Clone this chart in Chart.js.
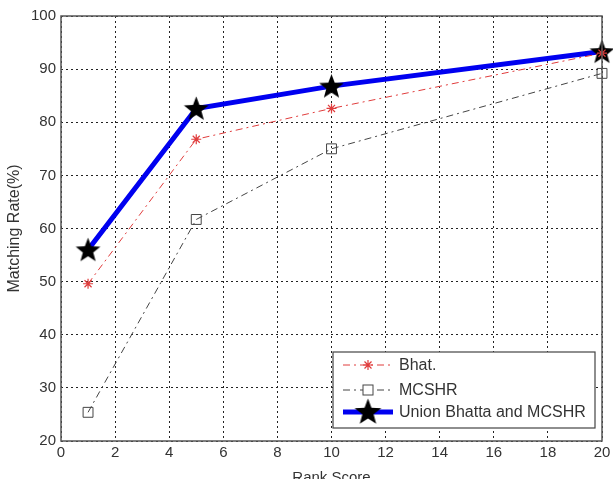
<!DOCTYPE html>
<html>
<head>
<meta charset="utf-8">
<script src="https://cdn.jsdelivr.net/npm/chart.js@4.4.1/dist/chart.umd.min.js"></script>
<style>
  html, body { margin:0; padding:0; background:#fff; }
  #wrap { width:613px; height:479px; }
</style>
</head>
<body>
<div id="wrap"><canvas id="c" width="613" height="479"></canvas></div>
<script>
const rankScores = [1, 5, 10, 20];
const bhat       = [49.6, 76.8, 82.6, 93.0];
const mcshr      = [25.4, 61.7, 75.0, 89.2];
const unionBM    = [56.0, 82.6, 86.8, 93.3];
const seriesNames = ['Bhat.', 'MCSHR', 'Union Bhatta and MCSHR'];
const xTicks = [0, 2, 4, 6, 8, 10, 12, 14, 16, 18, 20];
const yTicks = [20, 30, 40, 50, 60, 70, 80, 90, 100];

// filled five point star for the union series
function makeStar(size) {
  const cv = document.createElement('canvas');
  cv.width = size; cv.height = size;
  const g = cv.getContext('2d');
  const cx = size/2, cy = size/2 + 1, R = size/2 - 0.5, r = R*0.42;
  g.beginPath();
  for (let i=0;i<10;i++) {
    const a = -Math.PI/2 + i*Math.PI/5;
    const rr = i%2 ? r : R;
    g.lineTo(cx + rr*Math.cos(a), cy + rr*Math.sin(a));
  }
  g.closePath();
  g.fillStyle = '#000';
  g.fill();
  return cv;
}
const bigStar = makeStar(27);
const legendStar = makeStar(29);

const pts = ys => rankScores.map((x,i)=>({x, y: ys[i]}));
const FONT = '"Liberation Sans", Arial, sans-serif';

const boxAndLegend = {
  id: 'boxAndLegend',
  afterDatasetsDraw(chart) {
    const {ctx, chartArea:a} = chart;
    ctx.save();
    ctx.strokeStyle = '#555';
    ctx.lineWidth = 1.5;
    ctx.strokeRect(a.left, a.top, a.right-a.left, a.bottom-a.top);

    // legend box (MATLAB style, inside lower right)
    const lx = 333, ly = 352, lw = 262, lh = 76;
    ctx.fillStyle = '#fff';
    ctx.fillRect(lx, ly, lw, lh);
    ctx.strokeStyle = '#444';
    ctx.lineWidth = 1.2;
    ctx.strokeRect(lx, ly, lw, lh);
    const rows = [365, 390, 412];
    seriesNames.forEach((name, i) => {
      const ds = chart.data.datasets.find(d => d.label === name);
      const y = rows[i];
      ctx.save();
      ctx.strokeStyle = ds.borderColor;
      ctx.lineWidth = ds.borderWidth;
      ctx.setLineDash(ds.borderDash || []);
      ctx.beginPath(); ctx.moveTo(343, y); ctx.lineTo(393, y); ctx.stroke();
      ctx.restore();
      const mx = 368;
      if (ds.pointStyle === 'rect') {
        ctx.fillStyle = '#fff';
        ctx.fillRect(mx-5, y-5, 10, 10);
        ctx.strokeStyle = ds.pointBorderColor; ctx.lineWidth = 1;
        ctx.strokeRect(mx-5, y-5, 10, 10);
      } else if (ds.pointStyle === 'star') {
        ctx.strokeStyle = ds.pointBorderColor; ctx.lineWidth = 1.2;
        ctx.beginPath();
        ctx.moveTo(mx-5, y); ctx.lineTo(mx+5, y);
        ctx.moveTo(mx, y-5); ctx.lineTo(mx, y+5);
        ctx.moveTo(mx-3.5, y-3.5); ctx.lineTo(mx+3.5, y+3.5);
        ctx.moveTo(mx-3.5, y+3.5); ctx.lineTo(mx+3.5, y-3.5);
        ctx.stroke();
      } else {
        ctx.drawImage(legendStar, mx-14.5, y-15);
      }
      ctx.fillStyle = '#333';
      ctx.font = '16px ' + FONT;
      ctx.textBaseline = 'middle';
      ctx.fillText(ds.label, 399, y + 1);
    });
    ctx.restore();
  }
};

new Chart(document.getElementById('c'), {
  type: 'line',
  data: {
    datasets: [
      {
        label: seriesNames[1],
        data: pts(mcshr),
        borderColor: '#444',
        borderWidth: 1,
        borderDash: [7, 4, 2, 4],
        pointStyle: 'rect',
        pointRadius: 7,
        pointBackgroundColor: 'rgba(255,255,255,0)',
        pointBorderColor: '#444',
        pointBorderWidth: 1,
        tension: 0,
        clip: 14
      },
      {
        label: seriesNames[0],
        data: pts(bhat),
        borderColor: '#e03c3c',
        borderWidth: 1,
        borderDash: [7, 4, 2, 4],
        pointStyle: 'star',
        pointRadius: 5,
        pointBorderColor: '#e03c3c',
        pointBorderWidth: 1.2,
        tension: 0,
        clip: 14
      },
      {
        label: seriesNames[2],
        data: pts(unionBM),
        borderColor: '#0000f0',
        borderWidth: 5,
        pointStyle: bigStar,
        pointRadius: 13,
        tension: 0,
        clip: 14
      }
    ]
  },
  options: {
    responsive: false,
    animation: false,
    layout: { autoPadding: false, padding: { top: 16, right: 11, left: 5, bottom: 0 } },
    plugins: { legend: { display: false }, tooltip: { enabled: false } },
    scales: {
      x: {
        type: 'linear',
        min: 0, max: 20,
        afterBuildTicks: s => { s.ticks = xTicks.map(v => ({value: v})); },
        afterFit: s => { s.height = 38; s.paddingLeft = 0; s.paddingRight = 0; },
        grid: { color: '#222', lineWidth: 1, drawTicks: false },
        border: { display: false, dash: [2, 3] },
        ticks: { color: '#333', font: { size: 15, family: FONT }, padding: 3, maxRotation: 0 },
        title: { display: true, text: 'Rank Score', color: '#333', font: { size: 15, family: FONT }, padding: { top: 4, bottom: -8 } }
      },
      y: {
        min: 20, max: 100,
        afterBuildTicks: s => { s.ticks = yTicks.map(v => ({value: v})); },
        afterFit: s => { s.width = 56; },
        grid: { color: '#222', lineWidth: 1, drawTicks: false },
        border: { display: false, dash: [2, 3] },
        ticks: { color: '#333', font: { size: 15, family: FONT }, padding: 5 },
        title: { display: true, text: 'Matching Rate(%)', color: '#333', font: { size: 16, family: FONT }, padding: { top: 0, bottom: 4 } }
      }
    }
  },
  plugins: [boxAndLegend]
});
</script>
</body>
</html>
